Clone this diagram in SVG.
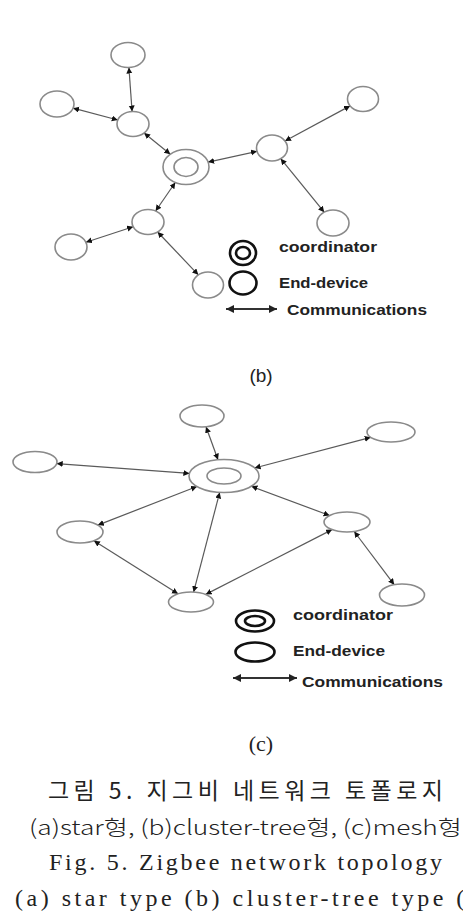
<svg xmlns="http://www.w3.org/2000/svg" width="463" height="924" viewBox="0 0 463 924">
<style>
.node{fill:#fff;stroke:#8a8a8a;stroke-width:1.6}
.edge{stroke:#5a5a5a;stroke-width:1.2;fill:none;marker-start:url(#ah);marker-end:url(#ah)}
.lg{fill:none;stroke:#111;stroke-width:2.6}
.lt{font-family:"Liberation Sans",Arial,sans-serif;font-weight:bold;font-size:15px;fill:#222}
.serif{font-family:"Liberation Serif","Noto Serif CJK KR","Noto Sans CJK KR",serif;fill:#222}
.kr{font-family:"Noto Sans CJK KR","Liberation Sans",sans-serif;fill:#222}
</style>
<defs>
<marker id="ah" markerUnits="userSpaceOnUse" markerWidth="7" markerHeight="7" refX="6" refY="3" orient="auto-start-reverse">
<path d="M0,0 L6,3 L0,6 z" fill="#111"/>
</marker>
<marker id="ahL" markerUnits="userSpaceOnUse" markerWidth="10" markerHeight="10" refX="8" refY="4" orient="auto-start-reverse">
<path d="M0,0 L8,4 L0,8 z" fill="#222"/>
</marker>
</defs>
<rect width="463" height="924" fill="#fff"/>

<!-- Panel (b) connectors -->
<g id="edges-b">
<line class="edge" x1="128.9" y1="67.5" x2="132.1" y2="111.5"/>
<line class="edge" x1="73.1" y1="108.2" x2="117.8" y2="120.0"/>
<line class="edge" x1="144.1" y1="133.0" x2="170.3" y2="154.2"/>
<line class="edge" x1="208.1" y1="162.1" x2="257.0" y2="151.3"/>
<line class="edge" x1="285.0" y1="141.0" x2="350.1" y2="105.9"/>
<line class="edge" x1="280.7" y1="158.7" x2="324.2" y2="212.2"/>
<line class="edge" x1="175.3" y1="182.5" x2="155.6" y2="211.0"/>
<line class="edge" x1="133.2" y1="226.8" x2="85.9" y2="242.2"/>
<line class="edge" x1="157.6" y1="232.0" x2="198.3" y2="274.8"/>
</g>
<g id="b-coord"><ellipse class="node" cx="186" cy="167" rx="23" ry="17.5"/><ellipse class="node" cx="186" cy="167" rx="12" ry="9.5"/></g>
<g id="b-top"><ellipse class="node" cx="128" cy="55" rx="17" ry="12.5"/></g>
<g id="b-left"><ellipse class="node" cx="57" cy="104" rx="17" ry="13"/></g>
<g id="b-hubA"><ellipse class="node" cx="133" cy="124" rx="16" ry="12.5"/></g>
<g id="b-hubR"><ellipse class="node" cx="272" cy="148" rx="15.5" ry="13"/></g>
<g id="b-topright"><ellipse class="node" cx="363" cy="99" rx="15.5" ry="12.5"/></g>
<g id="b-rightbottom"><ellipse class="node" cx="333" cy="223" rx="16" ry="13"/></g>
<g id="b-hubB"><ellipse class="node" cx="148" cy="222" rx="16" ry="12.5"/></g>
<g id="b-leftbottom"><ellipse class="node" cx="71" cy="247" rx="16" ry="13"/></g>
<g id="b-bottom"><ellipse class="node" cx="208" cy="285" rx="15.5" ry="13"/></g>

<g id="b-legend">
<ellipse class="lg" cx="243" cy="253" rx="13" ry="12"/>
<ellipse class="lg" cx="243" cy="253" rx="7" ry="6"/>
<ellipse class="lg" cx="243" cy="283" rx="13.5" ry="11.5"/>
<line x1="226" y1="309" x2="277" y2="309" stroke="#333" stroke-width="2" marker-start="url(#ahL)" marker-end="url(#ahL)"/>
<text class="lt" x="279" y="252" textLength="98" lengthAdjust="spacingAndGlyphs">coordinator</text>
<text class="lt" x="279" y="288" textLength="89" lengthAdjust="spacingAndGlyphs">End-device</text>
<text class="lt" x="287" y="315" textLength="140" lengthAdjust="spacingAndGlyphs">Communications</text>
</g>
<text x="261" y="382" text-anchor="middle" font-family="Liberation Sans, Arial, sans-serif" font-size="19" fill="#222">(b)</text>

<!-- Panel (c) connectors -->
<g id="edges-c">
<line class="edge" x1="206.0" y1="426.8" x2="218.0" y2="459.7"/>
<line class="edge" x1="56.7" y1="463.6" x2="189.4" y2="473.4"/>
<line class="edge" x1="370.7" y1="437.3" x2="254.6" y2="468.0"/>
<line class="edge" x1="197.0" y1="486.5" x2="97.8" y2="525.1"/>
<line class="edge" x1="219.7" y1="492.4" x2="193.6" y2="592.1"/>
<line class="edge" x1="251.4" y1="486.3" x2="329.6" y2="515.5"/>
<line class="edge" x1="93.9" y1="540.8" x2="178.0" y2="593.8"/>
<line class="edge" x1="332.1" y1="529.6" x2="205.7" y2="594.4"/>
<line class="edge" x1="354.2" y1="531.5" x2="394.2" y2="584.7"/>
</g>
<g id="c-coord"><ellipse class="node" cx="224" cy="476" rx="35" ry="16.5"/><ellipse class="node" cx="224" cy="476" rx="17" ry="8"/></g>
<g id="c-top"><ellipse class="node" cx="202" cy="416" rx="22" ry="11"/></g>
<g id="c-topright"><ellipse class="node" cx="391" cy="432" rx="24" ry="10"/></g>
<g id="c-left"><ellipse class="node" cx="35" cy="462" rx="22" ry="10.5"/></g>
<g id="c-leftmid"><ellipse class="node" cx="80" cy="532" rx="23" ry="11"/></g>
<g id="c-rightmid"><ellipse class="node" cx="347" cy="522" rx="23" ry="10"/></g>
<g id="c-bottom"><ellipse class="node" cx="191" cy="602" rx="22.5" ry="10"/></g>
<g id="c-bottomright"><ellipse class="node" cx="402" cy="595" rx="22.5" ry="11"/></g>

<g id="c-legend">
<ellipse class="lg" cx="255" cy="621" rx="19" ry="10.5"/>
<ellipse class="lg" cx="255" cy="621" rx="10" ry="5"/>
<ellipse class="lg" cx="255" cy="652" rx="19.5" ry="9.5"/>
<line x1="233" y1="678" x2="297" y2="678" stroke="#333" stroke-width="2" marker-start="url(#ahL)" marker-end="url(#ahL)"/>
<text class="lt" x="293" y="620" textLength="100" lengthAdjust="spacingAndGlyphs">coordinator</text>
<text class="lt" x="293" y="656" textLength="92" lengthAdjust="spacingAndGlyphs">End-device</text>
<text class="lt" x="302" y="687" textLength="141" lengthAdjust="spacingAndGlyphs">Communications</text>
</g>
<text class="serif" x="261" y="751" text-anchor="middle" font-size="22">(c)</text>

<g id="caption">
<text class="kr" x="48" y="799" font-size="23" textLength="395" lengthAdjust="spacing">그림 5. 지그비 네트워크 토폴로지</text>
<text class="kr" x="29" y="835" font-size="21" font-weight="300" textLength="433" lengthAdjust="spacingAndGlyphs">(a)star형, (b)cluster-tree형, (c)mesh형</text>
<text class="serif" x="49" y="870" font-size="24" textLength="393" lengthAdjust="spacing">Fig. 5. Zigbee network topology</text>
<text class="serif" x="15" y="906" font-size="24" textLength="475" lengthAdjust="spacing">(a) star type (b) cluster-tree type (c)</text>
<text class="serif" x="188" y="940" font-size="24">mesh type</text>
</g>
</svg>
